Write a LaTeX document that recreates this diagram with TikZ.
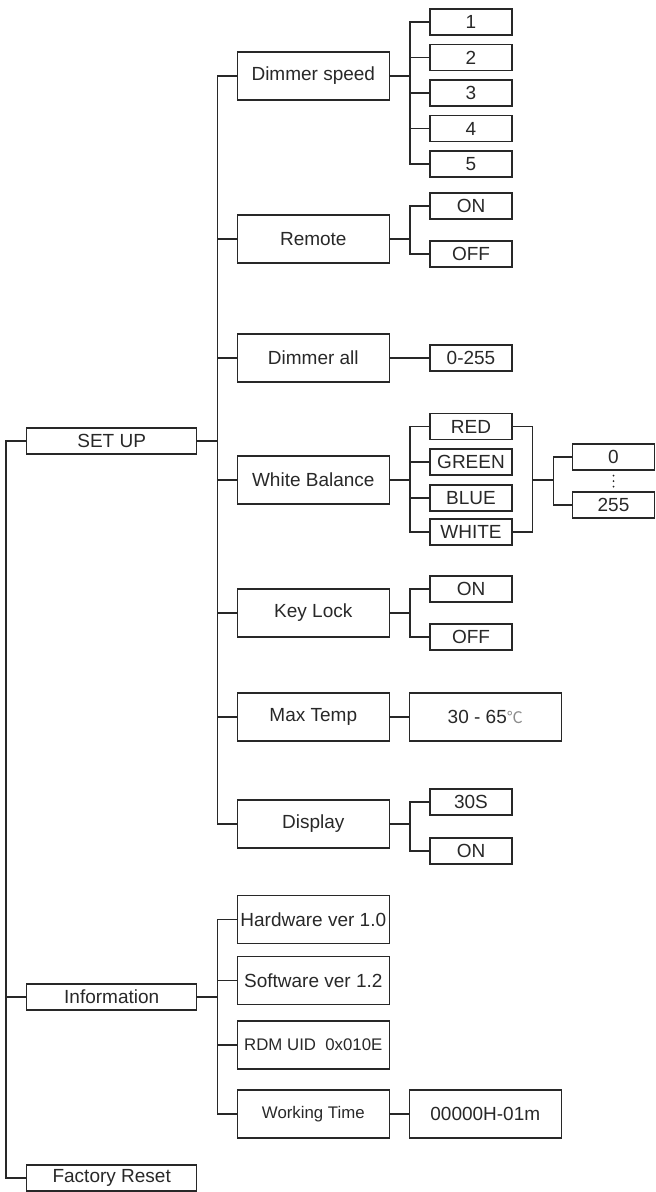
\documentclass[tikz,border=0pt]{standalone}
\usepackage{fontspec}
\setmainfont{Liberation Sans}
\newfontfamily\cjk{Noto Sans CJK SC}
\usetikzlibrary{calc}
\definecolor{ln}{RGB}{40,40,40}
\begin{document}
\begin{tikzpicture}[x=1pt,y=-1pt,
  bx/.style={draw=ln, line width=1.3pt, inner sep=0pt, text=ln, font=\fontsize{19}{21}\selectfont, anchor=center},
  lv1/.style={bx, minimum width=170pt, minimum height=26pt},
  lv2/.style={bx, minimum width=152pt, minimum height=48pt},
  lv3/.style={bx, minimum width=82pt, minimum height=26pt},
  small/.style={font=\fontsize{16.8}{18}\selectfont},
  cn/.style={draw=ln, line width=1.3pt},
]
\useasboundingbox (0,0) rectangle (656,1192);

% level 1
\node[lv1] (setup) at (111.7,441) {SET UP};
\node[lv1] (info) at (111.7,997) {Information};
\node[lv1] (reset) at (111.7,1178) {Factory Reset};

% level 2
\node[lv2] (dspeed) at (313.3,76) {Dimmer speed};
\node[lv2] (remote) at (313.3,239) {Remote};
\node[lv2] (dall) at (313.3,358) {Dimmer all};
\node[lv2] (wb) at (313.3,480) {White Balance};
\node[lv2] (klock) at (313.3,613) {Key Lock};
\node[lv2] (mtemp) at (313.3,717) {Max Temp};
\node[lv2] (disp) at (313.3,824) {Display};
\node[lv2] (hw) at (313.3,919.5) {Hardware ver 1.0};
\node[lv2] (sw) at (313.3,980.5) {Software ver 1.2};
\node[lv2, small] (rdm) at (313.3,1045) {RDM UID\ \ 0x010E};
\node[lv2, small] (wt) at (313.3,1114) {Working Time};

% level 3
\node[lv3] (d1) at (471,22) {1};
\node[lv3] (d2) at (471,57.5) {2};
\node[lv3] (d3) at (471,93) {3};
\node[lv3] (d4) at (471,128.5) {4};
\node[lv3] (d5) at (471,164) {5};
\node[lv3] (ron) at (471,206) {ON};
\node[lv3] (roff) at (471,254) {OFF};
\node[lv3] (v0255) at (471,358) {0-255};
\node[lv3] (red) at (471,426.7) {RED};
\node[lv3] (green) at (471,462) {GREEN};
\node[lv3] (blue) at (471,498) {BLUE};
\node[lv3] (white) at (471,532) {WHITE};
\node[lv3] (kon) at (471,589) {ON};
\node[lv3] (koff) at (471,637) {OFF};
\node[lv3] (ds30) at (471,802) {30S};
\node[lv3] (don) at (471,851) {ON};
\node[lv2] (temp) at (485.3,717) {30 - 65{\cjk\color{black!45}\fontsize{16}{18}\selectfont ℃}};
\node[lv2] (wtval) at (485.3,1114) {00000H-01m};

% level 4
\node[lv3] (z0) at (613.5,457) {0};
\node[lv3] (z255) at (613.5,505) {255};
\draw[ln, line width=2pt, line cap=round, dash pattern=on 0pt off 5.5pt]
  ($(z0.south)+(0,5)$) -- ($(z0.south)+(0,16.5)$);

% root connectors
\draw[cn] (setup.west) -- ++(-20,0) |- (info.west);
\draw[cn] (setup.west) -- ++(-20,0) |- (reset.west);

% set up children
\foreach \c in {dspeed,remote,dall,wb,klock,mtemp,disp}
  \draw[cn] (setup.east) -- ++(20,0) |- (\c.west);

% dimmer speed
\foreach \c in {d1,d2,d3,d4,d5}
  \draw[cn] (dspeed.east) -- ++(20,0) |- (\c.west);
% remote
\foreach \c in {ron,roff}
  \draw[cn] (remote.east) -- ++(20,0) |- (\c.west);
% dimmer all
\draw[cn] (dall.east) -- (v0255.west);
% white balance
\foreach \c in {red,green,blue,white}
  \draw[cn] (wb.east) -- ++(20,0) |- (\c.west);
\draw[cn] (red.east) -- ++(20,0) coordinate (j1) |- (white.east);
\coordinate (jm) at (j1 |- wb.east);
\draw[cn] (jm) -- ++(21,0) |- (z0.west);
\draw[cn] (jm) -- ++(21,0) |- (z255.west);
% key lock
\foreach \c in {kon,koff}
  \draw[cn] (klock.east) -- ++(20,0) |- (\c.west);
% max temp
\draw[cn] (mtemp.east) -- (temp.west);
% display
\foreach \c in {ds30,don}
  \draw[cn] (disp.east) -- ++(20,0) |- (\c.west);

% information children
\foreach \c in {hw,sw,rdm,wt}
  \draw[cn] (info.east) -- ++(20,0) |- (\c.west);
\draw[cn] (wt.east) -- (wtval.west);
\end{tikzpicture}
\end{document}
